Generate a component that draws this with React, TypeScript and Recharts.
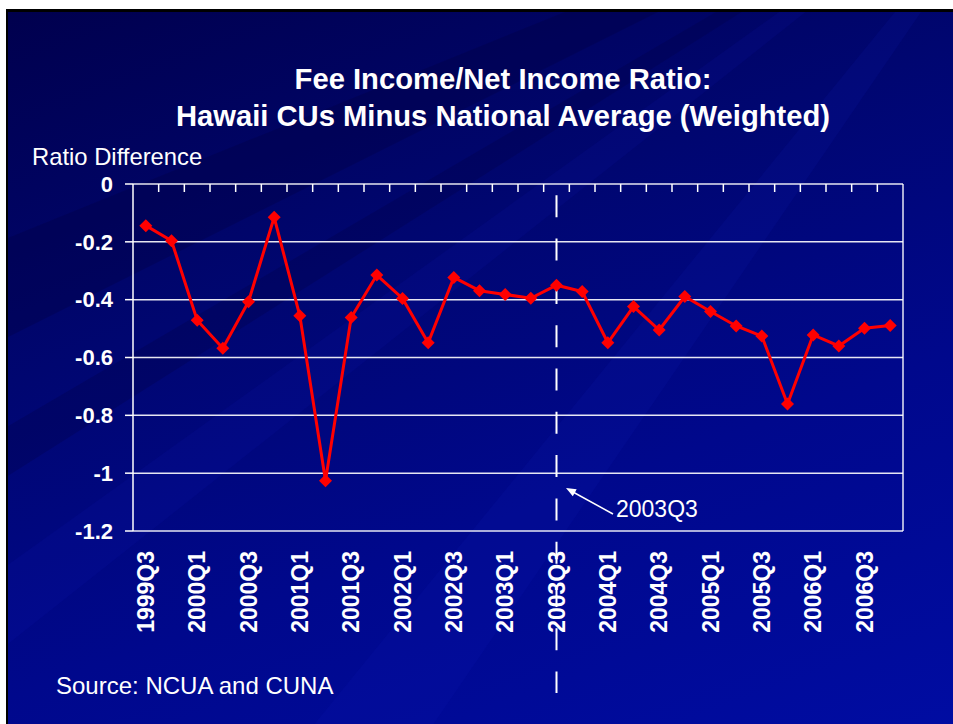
// Hawaii CU fee income ratio vs national average, quarterly
import React from "react";
import { LineChart, Line, XAxis, YAxis, CartesianGrid, ReferenceLine } from "recharts";

const quarters = [
  "1999Q3", "1999Q4",
  "2000Q1", "2000Q2", "2000Q3", "2000Q4",
  "2001Q1", "2001Q2", "2001Q3", "2001Q4",
  "2002Q1", "2002Q2", "2002Q3", "2002Q4",
  "2003Q1", "2003Q2", "2003Q3", "2003Q4",
  "2004Q1", "2004Q2", "2004Q3", "2004Q4",
  "2005Q1", "2005Q2", "2005Q3", "2005Q4",
  "2006Q1", "2006Q2", "2006Q3", "2006Q4",
];

const ratioDiff = [
  -0.144, -0.196, -0.471, -0.568, -0.407, -0.115, -0.456, -1.026, -0.462, -0.315,
  -0.396, -0.549, -0.323, -0.369, -0.382, -0.395, -0.35, -0.372, -0.549, -0.424,
  -0.505, -0.389, -0.441, -0.491, -0.526, -0.761, -0.522, -0.56, -0.499, -0.489,
];

const yTicks = [0, -0.2, -0.4, -0.6, -0.8, -1, -1.2];
const markerQuarter = "2003Q3";

const FONT = "'Liberation Sans', Arial, Helvetica, sans-serif";

const data = quarters.map((q, i) => ({ q, v: ratioDiff[i], pos: i + 0.5 }));
// band boundaries for the little tick marks along the top axis
const bandTicks = quarters.slice(1).map((_, i) => i + 1);

const Diamond = (props: any) => {
  const { cx, cy } = props;
  if (cx == null || cy == null) return null;
  const r = 6.5;
  return (
    <polygon
      points={`${cx},${cy - r} ${cx + r},${cy} ${cx},${cy + r} ${cx - r},${cy}`}
      fill="#ff0000"
    />
  );
};

const QuarterTick = (props: any) => {
  const { x, y, payload } = props;
  return (
    <g transform={`translate(${x},${y})`}>
      <text
        transform="rotate(-90)"
        textAnchor="end"
        dy="0.36em"
        fill="#ffffff"
        fontFamily={FONT}
        fontSize={23}
        fontWeight="bold"
      >
        {payload.value}
      </text>
    </g>
  );
};

const NoLabel = () => <g />;

// dashed marker that runs on past the plot, down through the labels
const MarkerLine = (props: any) => {
  const { x1, y1, y2 } = props;
  const top = Math.min(y1, y2);
  const bottom = Math.max(y1, y2) + 162;
  return (
    <line
      x1={x1}
      x2={x1}
      y1={top}
      y2={bottom}
      stroke="#ffffff"
      strokeWidth={2}
      strokeDasharray="22 21.3"
      strokeDashoffset={32}
    />
  );
};

export default function App() {
  return (
    <div
      style={{
        position: "absolute",
        left: 0,
        top: 0,
        width: 953,
        height: 724,
        background: "#ffffff",
        overflow: "hidden",
      }}
    >
      <div
        style={{
          position: "absolute",
          left: 6,
          top: 9,
          right: 0,
          bottom: 0,
          borderTop: "3px solid #000",
          borderLeft: "2px solid #000",
          background: "linear-gradient(160deg, #00004e 0%, #000670 35%, #00088c 65%, #000ca2 100%)",
        }}
      />
      <svg
        width={945}
        height={712}
        style={{ position: "absolute", left: 8, top: 12 }}
      >
        <polygon points="1050,-200 380,-12 560,-12" fill="#000040" opacity={0.35} />
        <polygon points="1050,-200 -10,230 -10,330" fill="#000040" opacity={0.3} />
        <polygon points="1050,-200 -10,420 -10,470" fill="#000040" opacity={0.25} />
        <polygon points="1050,-200 620,-12 700,-12" fill="#1a28d0" opacity={0.18} />
        <polygon points="1050,-200 760,-12 800,-12" fill="#1a28d0" opacity={0.2} />
        <polygon points="1050,-200 300,720 420,720" fill="#1020c0" opacity={0.12} />
        <polygon points="1050,-200 -10,560 -10,640" fill="#1020c0" opacity={0.1} />
        <polygon points="1050,-200 960,430 960,500" fill="#3040e0" opacity={0.25} />
        <polygon points="1050,-200 900,-12 935,-12" fill="#1a28d0" opacity={0.25} />
      </svg>

      <div style={{ position: "absolute", left: 0, top: 0 }}>
        <LineChart
          width={953}
          height={724}
          data={data}
          margin={{ top: 184, right: 50, bottom: 73, left: 0 }}
        >
          <CartesianGrid vertical={false} stroke="#ffffff" strokeOpacity={0.9} strokeWidth={1.5} />
          <XAxis
            dataKey="q"
            scale="band"
            interval={1}
            height={120}
            axisLine={false}
            tickLine={false}
            tickSize={0}
            tickMargin={20}
            tick={<QuarterTick />}
          />
          <XAxis
            xAxisId="bands"
            type="number"
            dataKey="pos"
            domain={[0, 30]}
            allowDataOverflow
            ticks={bandTicks}
            interval={0}
            orientation="top"
            mirror
            height={1}
            tick={<NoLabel />}
            tickSize={8}
            tickLine={{ stroke: "#ffffff", strokeWidth: 1.5 }}
            axisLine={false}
          />
          <YAxis
            width={133}
            domain={[-1.2, 0]}
            ticks={yTicks}
            allowDataOverflow
            tickSize={8}
            tickMargin={12}
            tickFormatter={(v: number) => String(v)}
            axisLine={{ stroke: "#ffffff", strokeWidth: 1.5 }}
            tickLine={{ stroke: "#ffffff", strokeWidth: 1.5 }}
            tick={{ fill: "#ffffff", fontSize: 22, fontWeight: "bold", fontFamily: FONT }}
          />
          <ReferenceLine
            xAxisId="bands"
            x={30}
            stroke="#ffffff"
            strokeOpacity={0.9}
            strokeWidth={1.5}
          />
          <Line
            type="linear"
            dataKey="v"
            stroke="#ff0000"
            strokeWidth={3}
            dot={<Diamond />}
            activeDot={false}
            isAnimationActive={false}
          />
          <ReferenceLine x={markerQuarter} ifOverflow="visible" shape={<MarkerLine />} />
        </LineChart>
      </div>

      <svg
        width={953}
        height={724}
        style={{ position: "absolute", left: 0, top: 0, pointerEvents: "none" }}
      >
        <g fill="#ffffff" fontFamily={FONT}>
          <text x={503} y={89} textAnchor="middle" fontSize={29.2} fontWeight="bold">
            Fee Income/Net Income Ratio:
          </text>
          <text x={503} y={126} textAnchor="middle" fontSize={29.2} fontWeight="bold">
            Hawaii CUs Minus National Average (Weighted)
          </text>
          <text x={32} y={165} fontSize={23.8}>
            Ratio Difference
          </text>
          <text x={56} y={694} fontSize={24}>
            Source: NCUA and CUNA
          </text>
          <text x={616} y={517} fontSize={23}>
            2003Q3
          </text>
        </g>
        <line x1={613} y1={514} x2={573} y2={492} stroke="#ffffff" strokeWidth={1.5} />
        <polygon points="566,488 576.7,489.3 572.8,496.3" fill="#ffffff" />
      </svg>
    </div>
  );
}
